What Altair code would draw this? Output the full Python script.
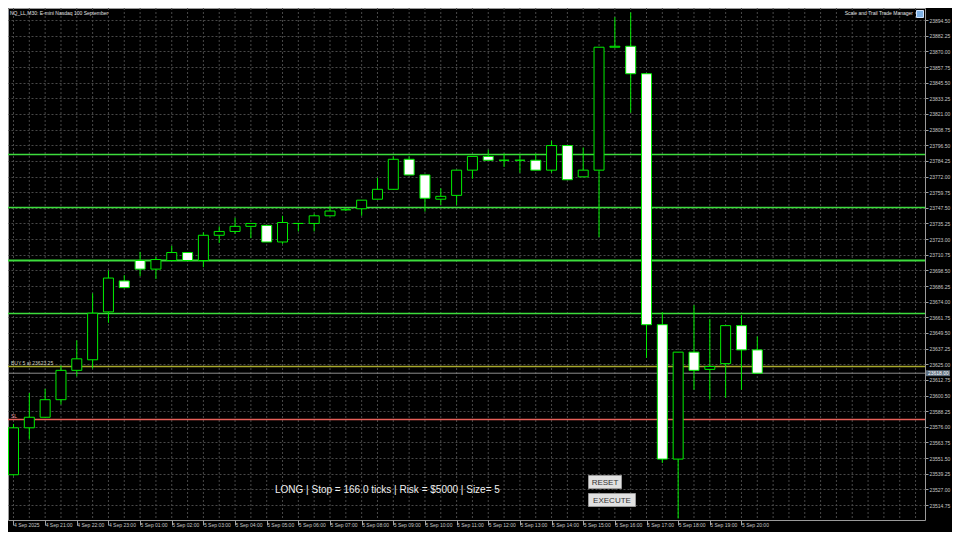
import altair as alt
import pandas as pd

# ---------------- data ----------------
bars = list(range(1, 49))
opens = [23538.50, 23575.25, 23583.50, 23597.25, 23620.25, 23628.50, 23666.00, 23690.25,
         23706.25, 23699.50, 23706.25, 23712.50, 23706.25, 23726.00, 23729.00, 23733.00,
         23733.75, 23720.75, 23735.25, 23735.25, 23741.25, 23746.00, 23746.75, 23754.25,
         23762.00, 23785.50, 23773.25, 23754.25, 23757.25, 23777.00, 23787.75, 23784.75,
         23784.75, 23784.75, 23777.00, 23796.25, 23771.75, 23777.00, 23873.25, 23874.00,
         23852.50, 23656.00, 23550.75, 23634.50, 23621.00, 23625.50, 23655.25, 23636.25]
highs = [23578.25, 23602.50, 23605.75, 23624.00, 23643.75, 23680.50, 23698.50, 23694.75,
         23713.00, 23709.25, 23717.75, 23712.50, 23728.25, 23733.00, 23739.75, 23735.25,
         23733.75, 23741.25, 23735.25, 23742.75, 23749.00, 23747.50, 23753.50, 23771.00,
         23787.75, 23787.75, 23773.25, 23762.75, 23777.00, 23787.75, 23793.00, 23790.00,
         23789.25, 23790.00, 23800.00, 23796.25, 23794.75, 23873.25, 23896.75, 23900.50,
         23852.50, 23665.75, 23634.50, 23671.25, 23660.50, 23655.25, 23663.50, 23646.75]
lows = [23537.75, 23566.00, 23583.50, 23593.50, 23615.50, 23621.75, 23657.50, 23685.00,
        23694.00, 23691.75, 23706.25, 23706.25, 23701.00, 23720.00, 23727.00, 23723.75,
        23720.75, 23719.25, 23729.00, 23729.00, 23741.25, 23745.00, 23741.25, 23754.25,
        23762.00, 23773.25, 23744.50, 23749.75, 23749.75, 23770.25, 23784.75, 23779.50,
        23775.00, 23777.00, 23775.00, 23769.50, 23771.75, 23724.50, 23873.25, 23822.00,
        23630.00, 23547.75, 23504.25, 23605.00, 23597.25, 23598.75, 23605.00, 23618.00]
closes = [23575.25, 23583.50, 23597.25, 23620.25, 23629.25, 23665.00, 23692.50, 23685.00,
          23699.50, 23707.00, 23712.50, 23706.25, 23726.00, 23729.00, 23733.00, 23735.25,
          23720.75, 23736.00, 23735.25, 23741.25, 23745.00, 23746.00, 23753.50, 23762.00,
          23785.50, 23773.25, 23755.00, 23756.50, 23777.00, 23787.75, 23784.75, 23784.75,
          23784.75, 23777.00, 23796.25, 23769.50, 23777.00, 23873.25, 23874.00, 23852.50,
          23656.00, 23550.75, 23634.50, 23620.25, 23623.25, 23655.25, 23636.25, 23618.00]

x_labels = ["4 Sep 2025", "4 Sep 21:00", "4 Sep 22:00", "4 Sep 23:00",
            "5 Sep 01:00", "5 Sep 02:00", "5 Sep 03:00", "5 Sep 04:00", "5 Sep 05:00",
            "5 Sep 06:00", "5 Sep 07:00", "5 Sep 08:00", "5 Sep 09:00", "5 Sep 10:00",
            "5 Sep 11:00", "5 Sep 12:00", "5 Sep 13:00", "5 Sep 14:00", "5 Sep 15:00",
            "5 Sep 16:00", "5 Sep 17:00", "5 Sep 18:00", "5 Sep 19:00", "5 Sep 20:00"]
x_label_bars = [1 + 2 * i for i in range(len(x_labels))]

y_ticks = [23894.50, 23882.25, 23870.00, 23857.75, 23845.50, 23833.25, 23821.00, 23808.75,
           23796.50, 23784.25, 23772.00, 23759.75, 23747.50, 23735.25, 23723.00, 23710.75,
           23698.50, 23686.25, 23674.00, 23661.75, 23649.50, 23637.25, 23625.00, 23612.75,
           23600.50, 23588.25, 23576.00, 23563.75, 23551.50, 23539.25, 23527.00, 23514.75]

tp_levels = [23664.75, 23706.25, 23747.75, 23789.25]
tp_widths = [1.5, 2, 1.5, 1.5]
entry_price = 23623.25
stop_price = 23581.75
last_price = 23618.00

title_text = "NQ_LL,M30: E-mini Nasdaq 100 September"
panel_text = "Scale and Trail Trade Manager"
status_text = "LONG | Stop = 166.0 ticks | Risk = $5000 | Size= 5"

# ---------------- layout / style ----------------
W, H = 917, 512
# 16 px per bar, bar centres on half pixels; 53 px per 166-tick stop distance
X_DOMAIN = [0.96875, 58.28125]
Y_DOMAIN = [23503.0569, 23903.9626]
FONT = "Liberation Sans"
GREEN = "#00ee00"
TP_GREEN = "#3ddc3d"
GRID = "#484848"
AXIS_TXT = "#c8c8c8"

xs = alt.Scale(domain=X_DOMAIN, nice=False, zero=False)
ys = alt.Scale(domain=Y_DOMAIN, nice=False, zero=False)

label_expr = "[" + ",".join("'%s'" % s for s in x_labels) + "][(datum.value - 1) / 2]"

X_AX = alt.Axis(
    values=x_label_bars, labelExpr=label_expr, grid=False, domain=False,
    ticks=True, tickSize=5, tickColor="#a0a0a0", labelColor=AXIS_TXT,
    labelFont=FONT, labelFontSize=5, labelAlign="left", labelBaseline="top",
    labelPadding=-3, labelFlush=False, labelOverlap=False, title=None)
Y_AX = alt.Axis(
    orient="right", values=y_ticks, format=".2f", grid=True, gridColor=GRID,
    gridDash=[2, 2], gridWidth=1, domain=False, tickSize=3, tickColor="#a0a0a0",
    labelColor=AXIS_TXT, labelFont=FONT, labelFontSize=5, labelPadding=1,
    labelOverlap=False, labelFlush=False, title=None)

candles = pd.DataFrame({"bar": bars, "open": opens, "high": highs,
                        "low": lows, "close": closes})

# vertical dashed grid (one line per bar slot)
vgrid = alt.Chart(pd.DataFrame({"bar": list(range(1, 59))})).mark_rule(
    color=GRID, strokeDash=[2, 2], strokeWidth=1, clip=True
).encode(x=alt.X("bar:Q", scale=xs, axis=X_AX), y=alt.value(0), y2=alt.value(H))


def hline(prices, color, width):
    return alt.Chart(pd.DataFrame({"price": prices})).mark_rule(
        color=color, strokeWidth=width, clip=True
    ).encode(y=alt.Y("price:Q", scale=ys, axis=Y_AX), x=alt.value(0), x2=alt.value(W))


tp_lines = [hline([p], TP_GREEN, w) for p, w in zip(tp_levels, tp_widths)]
entry_line = hline([entry_price], "#a8a82c", 1.5)
last_line = hline([last_price], "#8c8c8c", 1)
stop_line = hline([stop_price], "#e8605a", 1.5)

wicks = alt.Chart(candles).mark_rule(color=GREEN, strokeWidth=1, clip=True).encode(
    x=alt.X("bar:Q", scale=xs, axis=X_AX),
    y=alt.Y("low:Q", scale=ys, axis=Y_AX),
    y2="high:Q",
)

bodies = alt.Chart(candles).mark_bar(size=10, stroke=GREEN, strokeWidth=1, clip=True).encode(
    x=alt.X("bar:Q", scale=xs, axis=X_AX),
    y=alt.Y("open:Q", scale=ys, axis=Y_AX),
    y2="close:Q",
    fill=alt.condition("datum.close >= datum.open", alt.value("#000000"), alt.value("#ffffff")),
)


def line_label(price, text, color):
    return alt.Chart(pd.DataFrame({"price": [price], "text": [text]})).mark_text(
        font=FONT, fontSize=5, align="left", baseline="bottom", dy=-1, color=color
    ).encode(x=alt.value(3), y=alt.Y("price:Q", scale=ys, axis=Y_AX), text="text:N")


entry_lbl = line_label(entry_price, "BUY 5 at %.2f" % entry_price, "#d0d0c0")
stop_lbl = line_label(stop_price, "SL", "#e8a0a0")

# current price tag on the price axis
price_tag_df = pd.DataFrame({"price": [last_price], "lo": [last_price - 2.3],
                             "hi": [last_price + 2.3], "text": ["%.2f" % last_price]})
price_tag_box = alt.Chart(price_tag_df).mark_rect(fill="#5f6f80").encode(
    x=alt.value(W + 1), x2=alt.value(W + 25),
    y=alt.Y("lo:Q", scale=ys, axis=Y_AX), y2="hi:Q",
)
price_tag_txt = alt.Chart(price_tag_df).mark_text(
    font=FONT, fontSize=5, align="left", baseline="middle", color="#ffffff"
).encode(x=alt.value(W + 3), y=alt.Y("price:Q", scale=ys, axis=Y_AX), text="text:N")


# overlay texts
def ptext(text, x, y, size, color, align="left", baseline="middle"):
    return alt.Chart(pd.DataFrame({"t": [text]})).mark_text(
        font=FONT, fontSize=size, align=align, baseline=baseline, color=color
    ).encode(x=alt.value(x), y=alt.value(y), text="t:N")


def prect(x1, x2, y1, y2, fill, stroke):
    return alt.Chart(pd.DataFrame({"a": [0]})).mark_rect(
        fill=fill, stroke=stroke, strokeWidth=1
    ).encode(x=alt.value(x1), x2=alt.value(x2), y=alt.value(y1), y2=alt.value(y2))


title = ptext(title_text, 2, 5, 5, "#e0e0e0")
panel = ptext(panel_text, 905, 5, 5, "#e0e0e0", align="right")
icon = prect(908.5, 915.5, 2.5, 9.5, "#7fb2e5", "#d0e4ff")
status = ptext(status_text, 267, 482, 10, "#f0f0f0")
reset_btn = prect(580.5, 613.5, 467.5, 480.5, "#e1e1e1", "#9a9a9a")
reset_txt = ptext("RESET", 597, 474.5, 8, "#333333", align="center")
exec_btn = prect(580.5, 627.5, 485.5, 498.5, "#e1e1e1", "#9a9a9a")
exec_txt = ptext("EXECUTE", 604, 492.5, 8, "#333333", align="center")

chart = alt.layer(
    vgrid, *tp_lines, entry_line, last_line, stop_line, wicks, bodies,
    entry_lbl, stop_lbl, price_tag_box, price_tag_txt,
    title, panel, icon, status, reset_btn, reset_txt, exec_btn, exec_txt,
).properties(
    width=W, height=H,
    autosize=alt.AutoSizeParams(type="none"),
    padding={"left": 0, "top": 0, "right": 27, "bottom": 12},
    background="#000000",
).configure_view(stroke="#9a9a9a", strokeWidth=1)

chart.save("out.html", embed_options={"renderer": "svg", "actions": False})
